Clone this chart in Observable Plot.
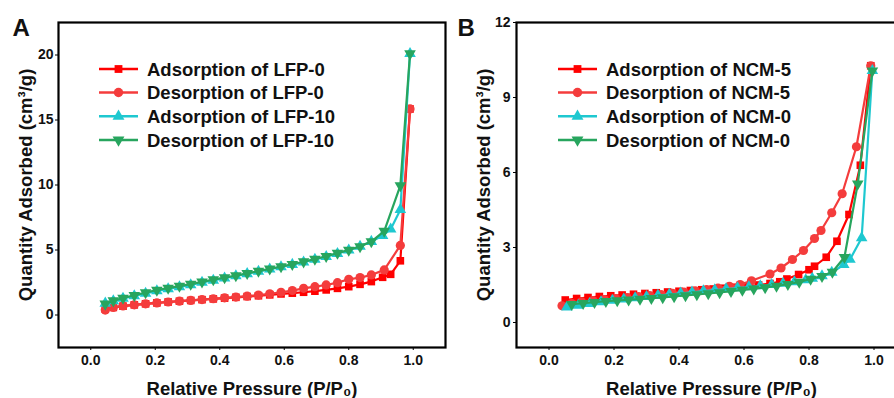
<!DOCTYPE html>
<html><head><meta charset="utf-8">
<script src="https://cdn.jsdelivr.net/npm/d3@7"></script>
<script src="https://cdn.jsdelivr.net/npm/@observablehq/plot@0.6"></script>
<style>
html,body{margin:0;padding:0;background:#fff;overflow:hidden;}
#wrap{position:relative;width:894px;height:398px;overflow:hidden;background:#fff;}
#wrap svg{position:absolute;top:0;}
</style></head><body><div id="wrap"></div>
<script>
// ---------- data ----------
const xTicks = [0, 0.2, 0.4, 0.6, 0.8, 1.0];
const yTicksA = [0, 5, 10, 15, 20];
const yTicksB = [0, 3, 6, 9, 12];
const xLabel = "Relative Pressure (P/P\u2080)";
const yLabel = "Quantity Adsorbed (cm\u00B3/g)";
const panelLetters = ["A", "B"];
const legendA = ["Adsorption of LFP-0", "Desorption of LFP-0", "Adsorption of LFP-10", "Desorption of LFP-10"];
const legendB = ["Adsorption of NCM-5", "Desorption of NCM-5", "Adsorption of NCM-0", "Desorption of NCM-0"];

// Panel A
const lfp0AdsX = [0.045,0.07,0.10,0.135,0.17,0.205,0.24,0.275,0.31,0.345,0.38,0.415,0.45,0.485,0.52,0.555,0.59,0.625,0.66,0.695,0.73,0.765,0.80,0.835,0.87,0.905,0.93,0.96,0.99];
const lfp0AdsY = [0.45,0.58,0.68,0.78,0.86,0.93,1.0,1.06,1.12,1.18,1.24,1.3,1.36,1.42,1.48,1.55,1.62,1.68,1.75,1.83,1.93,2.05,2.18,2.36,2.57,2.9,3.13,4.17,15.85];
const lfp0DesX = [0.99,0.96,0.91,0.87,0.835,0.80,0.765,0.73,0.695,0.66,0.625,0.59,0.555,0.52,0.485,0.45,0.415,0.38,0.345,0.31,0.275,0.24,0.205,0.17,0.135,0.10,0.07,0.045];
const lfp0DesY = [15.85,5.35,3.47,3.08,2.88,2.75,2.49,2.31,2.18,2.05,1.88,1.75,1.63,1.53,1.45,1.38,1.32,1.25,1.19,1.12,1.06,1.0,0.93,0.86,0.78,0.7,0.58,0.38];
const lfp10AdsX = [0.045,0.07,0.10,0.135,0.17,0.205,0.24,0.275,0.31,0.345,0.38,0.415,0.45,0.485,0.52,0.555,0.59,0.625,0.66,0.695,0.73,0.765,0.80,0.835,0.87,0.905,0.93,0.96,0.99];
const lfp10AdsY = [0.9,1.08,1.27,1.47,1.66,1.85,2.0,2.16,2.32,2.5,2.66,2.84,3.0,3.17,3.35,3.52,3.7,3.88,4.07,4.27,4.48,4.72,4.98,5.28,5.65,6.1,6.6,8.1,20.1];
const lfp10DesX = [0.99,0.96,0.91,0.87,0.835,0.80,0.765,0.73,0.695,0.66,0.625,0.59,0.555,0.52,0.485,0.45,0.415,0.38,0.345,0.31,0.275,0.24,0.205,0.17,0.135,0.10,0.07,0.045];
const lfp10DesY = [20.1,9.95,6.45,5.65,5.27,5.0,4.76,4.52,4.3,4.1,3.9,3.72,3.55,3.38,3.2,3.03,2.88,2.72,2.55,2.38,2.22,2.07,1.92,1.72,1.52,1.3,1.1,0.85];

// Panel B
const ncm5AdsX = [0.05,0.085,0.12,0.155,0.19,0.225,0.26,0.295,0.33,0.365,0.40,0.435,0.47,0.505,0.54,0.575,0.61,0.645,0.68,0.71,0.732,0.768,0.80,0.817,0.853,0.886,0.923,0.958,0.99];
const ncm5AdsY = [0.9,0.96,1.0,1.04,1.07,1.1,1.13,1.16,1.19,1.22,1.25,1.28,1.31,1.34,1.37,1.41,1.45,1.5,1.56,1.63,1.74,1.92,2.11,2.25,2.61,3.25,4.32,6.29,10.27];
const ncm5DesX = [0.99,0.946,0.902,0.87,0.837,0.817,0.783,0.749,0.714,0.68,0.623,0.588,0.555,0.52,0.485,0.45,0.415,0.38,0.345,0.31,0.275,0.24,0.205,0.17,0.135,0.10,0.07,0.04];
const ncm5DesY = [10.27,7.03,5.15,4.39,3.68,3.36,2.88,2.52,2.18,1.94,1.67,1.52,1.45,1.38,1.32,1.27,1.22,1.17,1.12,1.08,1.04,1.0,0.96,0.92,0.88,0.83,0.76,0.67];
const ncm0AdsX = [0.055,0.09,0.125,0.16,0.195,0.23,0.265,0.30,0.335,0.37,0.405,0.44,0.475,0.51,0.545,0.58,0.615,0.65,0.685,0.72,0.755,0.79,0.81,0.84,0.87,0.907,0.926,0.962,0.995];
const ncm0AdsY = [0.61,0.68,0.75,0.82,0.88,0.93,0.98,1.03,1.08,1.12,1.17,1.21,1.26,1.3,1.34,1.38,1.42,1.46,1.51,1.56,1.62,1.7,1.76,1.86,2.0,2.31,2.52,3.38,10.07];
const ncm0DesX = [0.995,0.95,0.909,0.872,0.84,0.805,0.77,0.735,0.70,0.665,0.63,0.595,0.56,0.525,0.49,0.455,0.42,0.385,0.35,0.315,0.28,0.245,0.21,0.175,0.14,0.105,0.07];
const ncm0DesY = [10.07,5.55,2.61,2.02,1.85,1.74,1.62,1.53,1.46,1.4,1.35,1.3,1.25,1.2,1.16,1.12,1.08,1.04,1.0,0.97,0.94,0.91,0.88,0.85,0.81,0.77,0.73];

// ---------- styling ----------
const FONT = "'Liberation Sans', Arial, Helvetica, sans-serif";
const colors = ["#FF0000", "#F43C3C", "#1EC8D0", "#27A55E"];
const sqrt3 = Math.sqrt(3);
const triangleDown = {
  draw(context, size) {
    const y = -Math.sqrt(size / (sqrt3 * 3));
    context.moveTo(0, -y * 2);
    context.lineTo(-sqrt3 * y, y);
    context.lineTo(sqrt3 * y, y);
    context.closePath();
  }
};
const symbols = [d3.symbolSquare, d3.symbolCircle, d3.symbolTriangle, triangleDown];
const radii = [4.3, 4.6, 4.3, 4.3];

function rows(xs, ys) { return xs.map((x, i) => ({x, y: ys[i]})); }

function makePanel(opt) {
  const marks = [];
  opt.series.forEach((s, k) => {
    const data = rows(s[0], s[1]);
    marks.push(Plot.line(data, {x: "x", y: "y", stroke: colors[k], strokeWidth: 2.2}));
    marks.push(Plot.dot(data, {x: "x", y: "y", fill: colors[k], stroke: "none", symbol: symbols[k], r: radii[k]}));
  });
  marks.push(Plot.frame({stroke: "black", strokeWidth: 2.2}));
  marks.push(Plot.axisX({ticks: xTicks, tickFormat: d3.format(".1f"), tickSize: 3, tickPadding: 5, label: null, fontSize: 14, fontWeight: "bold", fill: "#111"}));
  marks.push(Plot.axisY({ticks: opt.yTicks, tickFormat: d3.format("d"), tickSize: 3, tickPadding: opt.yPad, label: null, fontSize: 14, fontWeight: "bold", fill: "#111"}));
  marks.push(Plot.text([xLabel], {frameAnchor: "bottom", dy: 47, lineAnchor: "bottom", textAnchor: "middle", text: d => d, fontSize: 18.5, fontWeight: "bold", fill: "#111"}));
  marks.push(Plot.text([yLabel], {frameAnchor: "left", dx: -27, rotate: -90, lineAnchor: "bottom", textAnchor: "middle", text: d => d, fontSize: 18.5, fontWeight: "bold", fill: "#111"}));
  marks.push(Plot.text([opt.letter], {frameAnchor: "top-left", dx: opt.letterDx, dy: 13, lineAnchor: "bottom", textAnchor: "start", text: d => d, fontSize: 24, fontWeight: "bold", fill: "#111"}));

  const svg = Plot.plot({
    width: opt.width, height: 398,
    marginLeft: opt.marginLeft, marginRight: opt.marginRight, marginTop: 22, marginBottom: 51,
    x: {domain: [-0.1, 1.1]},
    y: {domain: opt.yDomain},
    style: {fontFamily: FONT, background: "transparent", overflow: "visible"},
    marks
  });
  svg.style.left = opt.left + "px";

  // legend (inside plot area)
  const g = d3.select(svg).append("g").attr("font-family", FONT).attr("font-weight", "bold")
    .attr("font-size", 18.5).attr("text-anchor", "start");
  const rowY = [69, 92.5, 116.3, 140];
  opt.legend.forEach((name, k) => {
    const y = rowY[k];
    g.append("line").attr("x1", opt.legX).attr("x2", opt.legX + 39).attr("y1", y).attr("y2", y)
      .attr("stroke", colors[k]).attr("stroke-width", 2.6);
    g.append("path").attr("d", d3.symbol(symbols[k], Math.PI * radii[k] * radii[k] * 1.05)())
      .attr("transform", `translate(${opt.legX + 19.5},${y})`).attr("fill", colors[k]);
    g.append("text").attr("x", opt.legX + 48).attr("y", y + 6.8).attr("fill", "#111")
      .attr("text-anchor", "start").text(name);
  });
  document.getElementById("wrap").appendChild(svg);
}

makePanel({
  letter: panelLetters[0], letterDx: -46, series: [[lfp0AdsX, lfp0AdsY], [lfp0DesX, lfp0DesY], [lfp10AdsX, lfp10AdsY], [lfp10DesX, lfp10DesY]],
  legend: legendA, yTicks: yTicksA, yDomain: [-2.5, 22.5], yPad: 2,
  width: 447, marginLeft: 58, marginRight: 2, left: 0, legX: 99
});
makePanel({
  letter: panelLetters[1], letterDx: -59, series: [[ncm5AdsX, ncm5AdsY], [ncm5DesX, ncm5DesY], [ncm0AdsX, ncm0AdsY], [ncm0DesX, ncm0DesY]],
  legend: legendB, yTicks: yTicksB, yDomain: [-1, 12], yPad: 3,
  width: 461, marginLeft: 69, marginRight: 2, left: 447, legX: 111
});
</script></body></html>
